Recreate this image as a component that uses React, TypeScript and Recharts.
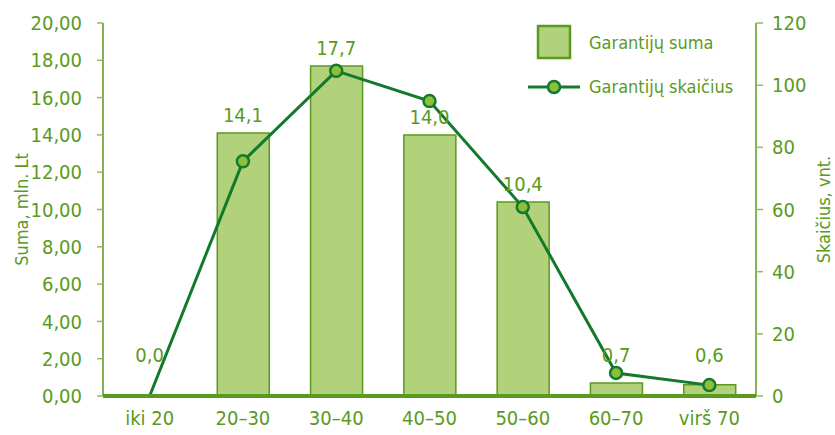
import { ComposedChart, Bar, Line, XAxis, YAxis, LabelList } from 'recharts';

const categories = ['iki 20', '20–30', '30–40', '40–50', '50–60', '60–70', 'virš 70'];
const sumaValues = [0.0, 14.1, 17.7, 14.0, 10.4, 0.7, 0.6];
const skaiciusValues = [0, 75.5, 104.6, 94.9, 60.8, 7.4, 3.5];
const leftTicks = [0, 2, 4, 6, 8, 10, 12, 14, 16, 18, 20];
const rightTicks = [0, 20, 40, 60, 80, 100, 120];

const FONT = "'DejaVu Sans Condensed', 'Liberation Sans Narrow', sans-serif";
const FS = 20; // ticks and value labels
const FS_SMALL = 18; // legend and axis titles
const TEXT = '#5a9a1e';
const BAR_FILL = '#b1d17a';
const BAR_STROKE = '#5a9a1e';
const LINE = '#137a2c';
const DOT = '#8dbf3c';

const data = categories.map((c, i) => ({
  cat: c,
  suma: sumaValues[i],
  skaicius: skaiciusValues[i],
}));

const fmtComma = (v: number, d: number) => v.toFixed(d).replace('.', ',');

// value label above the bar top, kept clear of the line near the baseline
const BarLabel = (props: any) => {
  const { x, y, value } = props;
  const ty = Math.min(y - 11, 362);
  return (
    <text x={x} y={ty} textAnchor="middle" fill={TEXT} fontSize={FS} fontFamily={FONT}>
      {fmtComma(value, 1)}
    </text>
  );
};

const Dot = (props: any) => {
  const { cx, cy, value, index } = props;
  if (!value) return <g key={index} />;
  return <circle key={index} cx={cx} cy={cy} r={6} fill={DOT} stroke={LINE} strokeWidth={2.5} />;
};

const LegendBox = () => (
  <svg width={230} height={90} style={{ position: 'absolute', left: 525, top: 23, overflow: 'visible' }}>
    <rect x={13} y={3} width={32} height={32} fill={BAR_FILL} stroke={BAR_STROKE} strokeWidth={2.5} />
    <text x={64} y={26} fill={TEXT} fontSize={FS_SMALL} fontFamily={FONT}>Garantijų suma</text>
    <line x1={3} y1={64} x2={55} y2={64} stroke={LINE} strokeWidth={3} />
    <circle cx={29} cy={64} r={6} fill={DOT} stroke={LINE} strokeWidth={2.5} />
    <text x={64} y={70} fill={TEXT} fontSize={FS_SMALL} fontFamily={FONT}>Garantijų skaičius</text>
  </svg>
);

export default function App() {
  const tickStyle = { fill: TEXT, fontSize: FS, fontFamily: FONT };
  const titleStyle = { fill: TEXT, fontSize: FS_SMALL, fontFamily: FONT, textAnchor: 'middle' };
  return (
    <div style={{ position: 'absolute', left: 0, top: 0, width: 835, height: 435 }}>
      <ComposedChart width={835} height={435} data={data} margin={{ top: 23, right: 0, bottom: 0, left: 0 }} barSize={52}>
        <XAxis
          dataKey="cat"
          height={39}
          tickLine={false}
          axisLine={{ stroke: TEXT, strokeWidth: 4 }}
          tick={{ ...tickStyle, dy: 7 }}
          interval={0}
        />
        <YAxis
          yAxisId="left"
          width={103}
          domain={[0, 20]}
          ticks={leftTicks}
          interval={0}
          tickFormatter={(v: number) => fmtComma(v, 2)}
          axisLine={{ stroke: TEXT, strokeWidth: 1.5 }}
          tickLine={{ stroke: '#8fbd5a', strokeWidth: 1.5 }}
          tickSize={6}
          tick={{ ...tickStyle, dx: -13 }}
          label={{ value: 'Suma, mln. Lt', angle: -90, position: 'insideLeft', offset: 22, style: titleStyle }}
        />
        <YAxis
          yAxisId="right"
          orientation="right"
          width={79}
          domain={[0, 120]}
          ticks={rightTicks}
          interval={0}
          axisLine={{ stroke: TEXT, strokeWidth: 1.5 }}
          tickLine={{ stroke: '#8fbd5a', strokeWidth: 1.5 }}
          tickSize={7}
          tick={{ ...tickStyle, dx: 7 }}
          label={{ value: 'Skaičius, vnt.', angle: -90, position: 'insideRight', offset: 11, style: titleStyle }}
        />
        <Bar yAxisId="left" dataKey="suma" fill={BAR_FILL} stroke={BAR_STROKE} strokeWidth={1.5} isAnimationActive={false} />
        {/* invisible carrier for the bar value labels, so the zero bar also gets its label */}
        <Line
          yAxisId="left"
          dataKey="suma"
          stroke="none"
          dot={false}
          activeDot={false}
          legendType="none"
          isAnimationActive={false}
        >
          <LabelList dataKey="suma" content={<BarLabel />} />
        </Line>
        <Line
          yAxisId="right"
          dataKey="skaicius"
          stroke={LINE}
          strokeWidth={3}
          dot={<Dot />}
          activeDot={false}
          isAnimationActive={false}
        />
      </ComposedChart>
      <LegendBox />
    </div>
  );
}
